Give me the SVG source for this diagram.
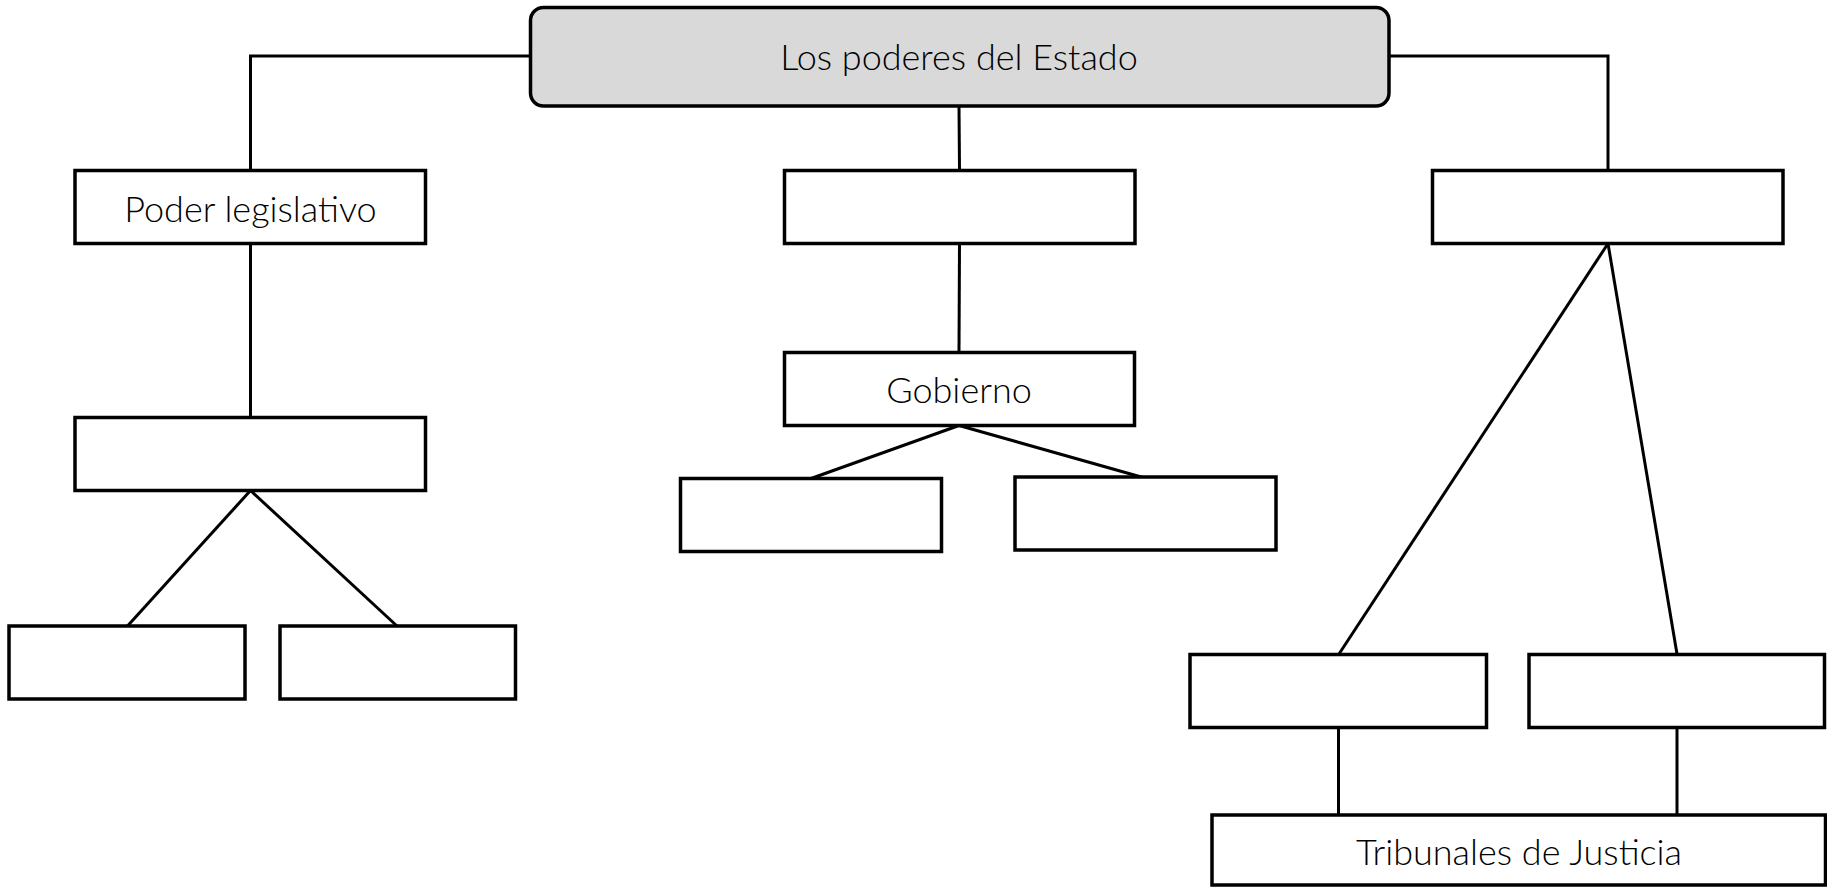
<svg xmlns="http://www.w3.org/2000/svg" width="1827" height="887" viewBox="0 0 1827 887">
<style>
.box{fill:#ffffff;stroke:#000000;stroke-width:3.5}
.root{fill:#d9d9d9;stroke:#000000;stroke-width:3.5}
.conn{fill:none;stroke:#000000;stroke-width:3}
.lbl{font-family:Lato,"Liberation Sans",sans-serif;font-weight:300;font-size:36px;fill:#000000;text-anchor:middle}
</style>
<rect width="1827" height="887" fill="#ffffff"/>
<g id="connectors">
<polyline class="conn" points="530,56 250.5,56 250.5,170"/>
<polyline class="conn" points="1389,56 1608,56 1608,170"/>
<line class="conn" x1="959" y1="106" x2="959.5" y2="170"/>
<line class="conn" x1="250.5" y1="243.5" x2="250.5" y2="417"/>
<line class="conn" x1="250.5" y1="490.5" x2="127.5" y2="626"/>
<line class="conn" x1="250.5" y1="490.5" x2="397" y2="626"/>
<line class="conn" x1="959.5" y1="243.5" x2="959" y2="352"/>
<line class="conn" x1="959" y1="425.5" x2="811" y2="478.5"/>
<line class="conn" x1="959" y1="425.5" x2="1143" y2="477.5"/>
<line class="conn" x1="1608" y1="243.5" x2="1339" y2="654"/>
<line class="conn" x1="1608" y1="243.5" x2="1677" y2="654"/>
<line class="conn" x1="1338.5" y1="727.5" x2="1338.5" y2="815"/>
<line class="conn" x1="1677" y1="727.5" x2="1677" y2="815"/>
</g>
<g id="root">
<rect class="root" x="530.5" y="7.5" width="858.5" height="98.5" rx="13"/>
<text class="lbl" x="959" y="70">Los poderes del Estado</text>
</g>
<g id="legislativo">
<rect class="box" x="75" y="170.5" width="350.5" height="73"/>
<text class="lbl" x="250.5" y="221.5">Poder legislativo</text>
</g>
<g id="centro">
<rect class="box" x="784.5" y="170.5" width="350.5" height="73"/>
</g>
<g id="derecha">
<rect class="box" x="1432.5" y="170.5" width="350.5" height="73"/>
</g>
<g id="leg-sub">
<rect class="box" x="75" y="417.5" width="350.5" height="73"/>
</g>
<g id="leg-sub-a">
<rect class="box" x="9" y="626" width="236" height="73"/>
</g>
<g id="leg-sub-b">
<rect class="box" x="280" y="626" width="235.5" height="73"/>
</g>
<g id="gobierno">
<rect class="box" x="784.5" y="352.5" width="350" height="73"/>
<text class="lbl" x="959" y="402.5">Gobierno</text>
</g>
<g id="gob-a">
<rect class="box" x="680.5" y="478.5" width="261" height="73"/>
</g>
<g id="gob-b">
<rect class="box" x="1015" y="477" width="261" height="73"/>
</g>
<g id="der-a">
<rect class="box" x="1190" y="654.5" width="296.5" height="73"/>
</g>
<g id="der-b">
<rect class="box" x="1529" y="654.5" width="295.5" height="73"/>
</g>
<g id="tribunales">
<rect class="box" x="1212" y="815" width="613.5" height="70"/>
<text class="lbl" x="1519" y="865">Tribunales de Justicia</text>
</g>
</svg>
